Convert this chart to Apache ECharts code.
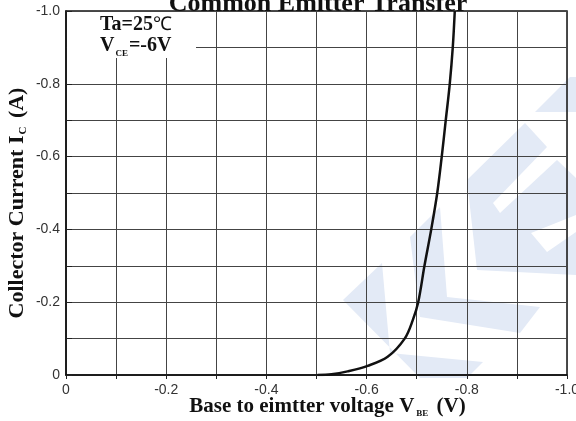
<!DOCTYPE html>
<html>
<head>
<meta charset="utf-8">
<script src="https://cdn.jsdelivr.net/npm/echarts@6/dist/echarts.min.js"></script>
<style>html,body{margin:0;padding:0;background:#fff}#c{width:576px;height:421px}</style>
</head>
<body>
<div id="c"></div>
<script>
// Data (V_BE in volts, I_C in amperes)
const vbe = [-0.502, -0.530, -0.562, -0.602, -0.642, -0.676, -0.692, -0.703, -0.7155, -0.729, -0.741, -0.750, -0.758, -0.766, -0.772, -0.776];
const ic  = [0.000, -0.002, -0.010, -0.025, -0.050, -0.100, -0.150, -0.200, -0.300, -0.400, -0.500, -0.600, -0.700, -0.800, -0.900, -1.000];
const xTicks = [0, -0.2, -0.4, -0.6, -0.8, -1.0];
const yTicks = [0, -0.2, -0.4, -0.6, -0.8, -1.0];
const titleText = 'Common Emitter Transfer';

const chart = echarts.init(document.getElementById('c'), null, {renderer: 'canvas'});
const serif = '"Liberation Serif", "Times New Roman", serif';
const sans = '"Liberation Sans", Arial, sans-serif';
const wm = '#e3eaf6';

function fmt(list) {
  return function (v) {
    const hit = list.find(t => Math.abs(t - v) < 1e-6);
    if (hit === undefined) return '';
    return hit === 0 ? '0' : hit.toFixed(1);
  };
}

const option = {
  animation: false,
  backgroundColor: '#fff',
  title: {
    text: titleText,
    left: 313, top: -14, textAlign: 'center',
    textStyle: {fontFamily: serif, fontWeight: 'bold', fontSize: 26, color: '#111'}
  },
  grid: {left: 66, right: 9, top: 11, bottom: 46, show: true, containLabel: false, outerBoundsMode: 'none',
    borderColor: '#111', borderWidth: 1.5, backgroundColor: 'transparent'},
  xAxis: [{
    type: 'value', min: -1, max: 0, interval: 0.1, inverse: true,
    name: '{b|Base to eimtter voltage V}{s|BE}{b| (V)}',
    nameLocation: 'middle', nameGap: 21, nameMoveOverlap: false,
    nameTextStyle: {
      padding: [0, 0, 0, 22],
      rich: {
        b: {fontFamily: serif, fontWeight: 'bold', fontSize: 21, color: '#111', lineHeight: 22},
        s: {fontFamily: serif, fontWeight: 'bold', fontSize: 9, color: '#111', verticalAlign: 'bottom', lineHeight: 22, padding: [0, 3, 0, 2]}
      }
    },
    axisLine: {show: true, onZero: false, lineStyle: {color: '#111', width: 1.5}},
    axisTick: {show: false},
    axisLabel: {formatter: fmt(xTicks), fontFamily: sans, fontSize: 14, color: '#333', margin: 8},
    splitLine: {show: true, lineStyle: {color: '#444', width: 1}}
  }, {
    type: 'value', min: -1, max: 0, interval: 0.1, inverse: true, position: 'top',
    axisLine: {show: false}, axisLabel: {show: false}, splitLine: {show: false},
    axisTick: {show: true, inside: true, length: 4, lineStyle: {color: '#222'}}
  }],
  yAxis: {
    type: 'value', min: -1, max: 0, interval: 0.1, inverse: true,
    name: '{b|Collector Current I}{s|C}{b| (A)}',
    nameLocation: 'middle', nameGap: 37, nameMoveOverlap: false,
    nameTextStyle: {
      padding: [0, 20, 0, 0],
      rich: {
        b: {fontFamily: serif, fontWeight: 'bold', fontSize: 22, color: '#111', lineHeight: 24},
        s: {fontFamily: serif, fontWeight: 'bold', fontSize: 11, color: '#111', verticalAlign: 'bottom', lineHeight: 24, padding: [0, 3, 0, 1]}
      }
    },
    axisLine: {show: true, onZero: false, lineStyle: {color: '#111', width: 1.5}},
    axisTick: {show: true, inside: true, length: 6, lineStyle: {color: '#222'}},
    axisLabel: {formatter: fmt(yTicks), fontFamily: sans, fontSize: 14, color: '#333', margin: 6},
    splitLine: {show: true, lineStyle: {color: '#444', width: 1}}
  },
  graphic: [
    // light-blue watermark logo (decoration)
    {type: 'polygon', z: -5, silent: true, shape: {points: [[535,112],[570,77],[576,77],[576,112]]}, style: {fill: wm}},
    {type: 'polygon', z: -5, silent: true, shape: {points: [[467,180],[525,123],[547,147],[493,203],[500,213],[557,160],[576,178],[576,215],[531,233],[547,252],[576,232],[576,275],[477,270]]}, style: {fill: wm}},
    {type: 'polygon', z: -5, silent: true, shape: {points: [[410,237],[440,207],[447,297],[540,307],[520,333],[420,317]]}, style: {fill: wm}},
    {type: 'polygon', z: -5, silent: true, shape: {points: [[343,300],[382,263],[390,353],[483,362],[467,378],[420,378]]}, style: {fill: wm}},
    // annotation box
    {type: 'rect', z: 50, silent: true, shape: {x: 67, y: 12, width: 129, height: 46}, style: {fill: '#fff'}},
    {type: 'text', z: 51, silent: true, left: 100, top: 15,
      style: {text: '{b|Ta=25}{n|℃}', rich: {
        b: {fontFamily: serif, fontWeight: 'bold', fontSize: 20, fill: '#111'},
        n: {fontFamily: serif, fontSize: 19, fill: '#111'}}}},
    {type: 'text', z: 51, silent: true, left: 100, top: 36,
      style: {text: '{b|V}{s|CE}{b|=-6V}', rich: {
        b: {fontFamily: serif, fontWeight: 'bold', fontSize: 20, fill: '#111', lineHeight: 24},
        s: {fontFamily: serif, fontWeight: 'bold', fontSize: 9, fill: '#111', verticalAlign: 'bottom', lineHeight: 24, padding: [0, 1, 0, 1]}}}}
  ],
  series: [{
    type: 'line', xAxisIndex: 0,
    data: vbe.map((v, i) => [v, ic[i]]),
    smooth: 0.35, showSymbol: false, clip: true, z: 10,
    lineStyle: {color: '#111', width: 2.5}
  }]
};
chart.setOption(option);
</script>
</body>
</html>
